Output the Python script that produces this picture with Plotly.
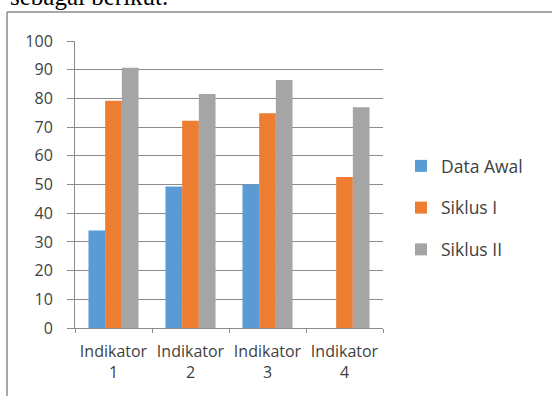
import plotly.graph_objects as go

categories = ["Indikator<br>1", "Indikator<br>2", "Indikator<br>3", "Indikator<br>4"]
data_awal = [34, 49.3, 50, None]
siklus_1 = [79.2, 72.2, 74.8, 52.6]
siklus_2 = [90.7, 81.5, 86.4, 76.9]
series_names = ["Data Awal", "Siklus I", "Siklus II"]
colors = ["#5B9BD5", "#ED7D31", "#A5A5A5"]
y_ticks = list(range(0, 101, 10))

W, H = 552, 396
ML, MR, MT, MB = 75, 169, 41, 68
PW, PH = W - ML - MR, H - MT - MB

def px(x):
    return (x - ML) / PW

def py(y):
    return (H - MB - y) / PH

fig = go.Figure()
for name, vals, col in zip(series_names, [data_awal, siklus_1, siklus_2], colors):
    fig.add_trace(go.Bar(x=categories, y=vals, name=name, marker_color=col,
                         marker_line_width=0, legendgroup=name))

grid = "#8C8C8C"
font = "Open Sans"
txt = "#3F3F3F"
fig.update_layout(
    width=W, height=H,
    margin=dict(l=ML, r=MR, t=MT, b=MB, pad=0),
    paper_bgcolor="white", plot_bgcolor="white",
    barmode="group", bargap=0.35, bargroupgap=0,
    font=dict(family=font, size=16, color=txt),
    showlegend=True,
    legend=dict(x=px(401), y=py(148), xanchor="left", yanchor="top",
                font=dict(family=font, size=17.5, color=txt),
                tracegroupgap=16, itemwidth=30, bgcolor="rgba(0,0,0,0)"),
    xaxis=dict(showline=True, linecolor=grid, linewidth=1, showgrid=False,
               ticks="outside", tickson="boundaries", ticklen=4, tickcolor=grid,
               ticklabelstandoff=9,
               tickfont=dict(family=font, size=16, color=txt)),
    yaxis=dict(range=[0, 100], tickvals=y_ticks, showline=True, linecolor=grid, linewidth=1,
               showgrid=True, gridcolor=grid, gridwidth=1, zeroline=False,
               ticks="outside", ticklen=7, tickcolor=grid, ticklabelstandoff=11,
               tickfont=dict(family=font, size=16, color=txt)),
    shapes=[
        dict(type="line", xref="paper", yref="paper", x0=px(7), x1=px(552), y0=py(12), y1=py(12),
             line=dict(color="#8A8A8A", width=1.5)),
        dict(type="line", xref="paper", yref="paper", x0=px(7), x1=px(7), y0=py(12), y1=py(396),
             line=dict(color="#8A8A8A", width=1.5)),
    ],
    annotations=[
        dict(text="sebagai berikut.", xref="paper", yref="paper", x=px(8), y=py(12),
             xanchor="left", yanchor="bottom", showarrow=False,
             font=dict(family="Liberation Serif", size=25, color="#000000")),
    ],
)

fig.write_html("out.html")
